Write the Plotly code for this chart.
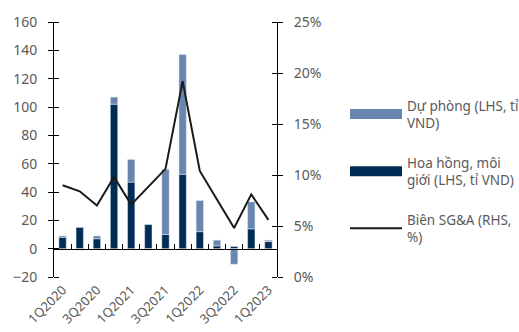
import plotly.graph_objects as go

quarters = ["1Q2020", "2Q2020", "3Q2020", "4Q2020", "1Q2021", "2Q2021", "3Q2021",
            "4Q2021", "1Q2022", "2Q2022", "3Q2022", "4Q2022", "1Q2023"]
hoa_hong = [8, 15, 7, 102, 47, 17, 10, 52.5, 12, 2, 1.5, 14, 5]
du_phong = [1, -1, 2, 5, 16, -1, 46, 84.5, 22, 4, -11, 19, 1]
bien_sga = [9.0, 8.4, 7.0, 9.8, 7.1, 8.8, 10.6, 19.2, 10.4, 7.6, 4.8, 8.1, 5.6]
tick_labels = quarters[::2]

DARK = "#022c56"
LIGHT = "#6886ae"
TXT = "#5a5a5a"
FONT = "Noto Sans"

fig = go.Figure()
fig.add_trace(go.Bar(x=quarters, y=hoa_hong, marker_color=DARK, width=0.43,
                     name="Hoa hồng, môi<br>giới (LHS, tỉ VND)", showlegend=False))
fig.add_trace(go.Bar(x=quarters, y=du_phong, marker_color=LIGHT, width=0.43,
                     name="Dự phòng (LHS, tỉ<br>VND)", showlegend=False))
fig.add_trace(go.Scatter(x=quarters, y=bien_sga, mode="lines", xaxis="x2", yaxis="y2",
                         line=dict(color="#1a1a1a", width=2), showlegend=False))

# legend proxies
fig.add_trace(go.Scatter(x=[None], y=[None], mode="lines", name="Dự phòng (LHS, tỉ<br>VND)",
                         line=dict(color=LIGHT, width=10), legendgroup="a"))
fig.add_trace(go.Scatter(x=[None], y=[None], mode="lines", name="Hoa hồng, môi<br>giới (LHS, tỉ VND)",
                         line=dict(color=DARK, width=10), legendgroup="b"))
fig.add_trace(go.Scatter(x=[None], y=[None], mode="lines", name="Biên SG&A (RHS,<br>%)",
                         line=dict(color="#1a1a1a", width=2), legendgroup="c"))

fig.update_layout(
    width=519, height=332,
    margin=dict(l=54, r=242, t=22, b=55),
    plot_bgcolor="white", paper_bgcolor="white",
    barmode="relative",
    font=dict(family=FONT, size=14, color=TXT),
    xaxis=dict(type="category", categoryarray=quarters, range=[-0.5, 12.5],
               tickvals=tick_labels, ticktext=tick_labels, tickangle=-45,
               showline=False, ticks="", showgrid=False, zeroline=False,
               automargin=False, ticklabelstandoff=2,
               tickfont=dict(size=13, color=TXT)),
    xaxis2=dict(type="category", categoryarray=quarters, range=[-0.5, 12.5],
                overlaying="x", anchor="free", position=20 / 180,
                showline=True, linecolor="black", linewidth=1,
                ticks="inside", ticklen=5, tickcolor="black", tickson="boundaries",
                showticklabels=False, showgrid=False, zeroline=False),
    yaxis=dict(range=[-20, 160], dtick=20, tick0=0, showline=True, linecolor="black",
               linewidth=1, ticks="outside", ticklen=5, tickcolor="black",
               minor=dict(ticks="inside", ticklen=5, dtick=20, tick0=0, tickcolor="black"),
               showgrid=False, zeroline=False, ticklabelstandoff=8, automargin=False,
               tickfont=dict(size=14, color=TXT)),
    yaxis2=dict(range=[0, 25], dtick=5, tick0=0, ticksuffix="%", overlaying="y",
                side="right", anchor="x", showline=True, linecolor="black", linewidth=1,
                ticks="outside", ticklen=5, tickcolor="black",
                minor=dict(ticks="inside", ticklen=5, dtick=5, tick0=0, tickcolor="black"),
                showgrid=False, zeroline=False, ticklabelstandoff=8, automargin=False,
                tickfont=dict(size=14, color=TXT)),
    legend=dict(xref="container", yref="container", x=345 / 519, y=1 - 90 / 332,
                xanchor="left", yanchor="top", itemwidth=52, tracegroupgap=19,
                font=dict(size=13.5, color=TXT), bgcolor="rgba(0,0,0,0)"),
)

fig.write_html("out.html")
